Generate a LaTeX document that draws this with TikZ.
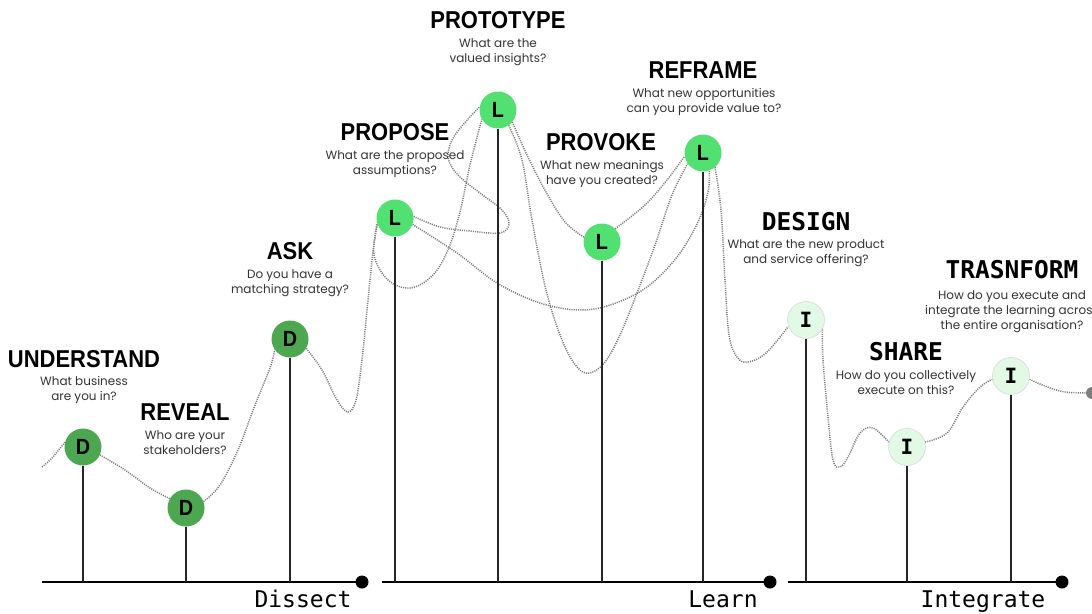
\documentclass[tikz,border=0pt]{standalone}
\usepackage{fontspec}
\setmainfont{Poppins}
\newfontfamily\headsans[FakeStretch=0.9]{Liberation Sans}
\newfontfamily\headmono{DejaVu Sans Mono}
\usetikzlibrary{backgrounds}
\definecolor{dgreen}{HTML}{4DA750}
\definecolor{lgreen}{HTML}{52E070}
\definecolor{pgreen}{HTML}{E1F9E5}
\definecolor{subgray}{HTML}{333333}
\definecolor{pathgray}{HTML}{7E7E7E}

\tikzset{
  stage/.style={circle, minimum size=37pt, inner sep=0pt,
    font=\headsans\bfseries\fontsize{22}{22}\selectfont},
  dstage/.style={stage, fill=dgreen},
  lstage/.style={stage, fill=lgreen},
  istage/.style={stage, fill=pgreen, draw=gray!30, line width=0.6pt,
    font=\headmono\bfseries\fontsize{21}{21}\selectfont},
  title/.style={font=\headsans\bfseries\fontsize{24.4}{25}\selectfont, inner sep=0pt},
  mtitle/.style={font=\headmono\bfseries\fontsize{24.5}{25}\selectfont, inner sep=0pt},
  question/.style={font=\fontsize{12}{15}\selectfont, text=subgray,
    align=center, inner sep=0pt, anchor=north},
  phase/.style={font=\headmono\fontsize{23}{23}\selectfont, inner sep=0pt, anchor=base},
  stem/.style={line width=1.5pt, draw=black!85},
  axisline/.style={line width=2pt, draw=black},
  enddot/.style={circle, fill=black, minimum size=13pt, inner sep=0pt},
  trail/.style={draw=pathgray, line width=1.5pt, dash pattern=on 1.1pt off 1.1pt},
  trailend/.style={circle, fill=pathgray, minimum size=12pt, inner sep=0pt},
}

\begin{document}
\begin{tikzpicture}[x=1pt, y=-1pt]
\useasboundingbox (0,0) rectangle (1092,613);

% axes with end dots
\coordinate (a1s) at (42,582);
\coordinate (a2s) at (382,582);
\coordinate (a3s) at (788,582);
\node[enddot] (e1) at (362,582) {};
\node[enddot] (e2) at (770,582) {};
\node[enddot] (e3) at (1062,582) {};
\draw[axisline] (a1s) -- (e1.center);
\draw[axisline] (a2s) -- (e2.center);
\draw[axisline] (a3s) -- (e3.center);

\node[phase] (ph1) at (303,607) {Dissect};
\node[phase] (ph2) at (723,607) {Learn};
\node[phase] (ph3) at (983,607) {Integrate};

% stage circles
\node[dstage] (D1) at (83,447) {D};
\node[dstage] (D2) at (186,508) {D};
\node[dstage] (D3) at (290,339) {D};
\node[lstage] (L1) at (395,218) {L};
\node[lstage] (L2) at (498,110) {L};
\node[lstage] (L3) at (602,242) {L};
\node[lstage] (L4) at (703,153) {L};
\node[istage] (I1) at (806,320) {I};
\node[istage] (I2) at (907,447) {I};
\node[istage] (I3) at (1011,376) {I};

% stems down to the axes
\foreach \s/\a in {D1/a1s, D2/a1s, D3/a1s, L1/a2s, L2/a2s, L3/a2s, L4/a2s, I1/a3s, I2/a3s, I3/a3s}
  \draw[stem] (\s.south) -- (\s.south |- \a);

% titles and questions
\node[title] (t1) at (84,359) {UNDERSTAND};
\node[question] (q1) at (84,376) {What business\\are you in?};
\node[title] (t2) at (185,412) {REVEAL};
\node[question] (q2) at (185,430) {Who are your\\stakeholders?};
\node[title] (t3) at (290,251) {ASK};
\node[question] (q3) at (290,269) {Do you have a\\matching strategy?};
\node[title] (t4) at (395,132) {PROPOSE};
\node[question] (q4) at (395,150) {What are the proposed\\assumptions?};
\node[title] (t5) at (498,20) {PROTOTYPE};
\node[question] (q5) at (498,38) {What are the\\valued insights?};
\node[title] (t6) at (703,70) {REFRAME};
\node[question] (q6) at (704,88) {What new opportunities\\can you provide value to?};
\node[title] (t7) at (601,142) {PROVOKE};
\node[question] (q7) at (602,160) {What new meanings\\have you created?};
\node[mtitle] (t8) at (806,222) {DESIGN};
\node[question] (q8) at (806,239) {What are the new product\\and service offering?};
\node[mtitle] (t9) at (906,352) {SHARE};
\node[question] (q9) at (906,370) {How do you collectively\\execute on this?};
\node[mtitle] (t10) at (1012,270) {TRASNFORM};
\node[question] (q10) at (1012,290) {How do you execute and\\integrate the learning across\\the entire organisation?};

% dotted journey line
\node[trailend] (tend) at (1092,393) {};
\coordinate (tstart) at (42,467);
\begin{scope}[on background layer]
  \draw[trail] plot[smooth, tension=0.6] coordinates {(tstart) (52,458) (D1.165)};
  \draw[trail] plot[smooth, tension=0.6] coordinates {(D1.-25) (125,470) (150,488) (D2.150)};
  \draw[trail] plot[smooth, tension=0.6] coordinates {(D2.20) (220,485) (238,450) (255,405) (270,368) (D3.215)};
  \draw[trail] plot[smooth, tension=0.6] coordinates {(D3.-30) (322,370) (337,400) (348,412) (356,400) (362,360) (368,300) (373,252) (L1.195)};
  \draw[trail] plot[smooth, tension=0.6] coordinates {(L1.200) (374,255) (388,280) (410,288) (432,276) (448,250) (460,212) (470,165) (L2.210)};
  \draw[trail] plot[smooth, tension=0.6] coordinates {(L1.5) (440,227) (470,231) (500,233) (509,224) (502,210) (480,193) (458,175) (448,157) (455,135) (L2.170)};
  \draw[trail] plot[smooth, tension=0.6] coordinates {(L1.-20) (457,253) (497,283) (540,303) (580,310) (613,304) (647,287) (677,257) (698,222) (708,192) (L4.-70)};
  \draw[trail] plot[smooth, tension=0.6] coordinates {(L2.-40) (527,155) (546,192) (565,222) (L3.165)};
  \draw[trail] plot[smooth, tension=0.6] coordinates {(L2.-55) (522,160) (532,220) (546,290) (562,340) (577,367) (590,373) (605,362) (620,335) (637,293) (655,245) (672,195) (L4.215)};
  \draw[trail] plot[smooth, tension=0.6] coordinates {(L3.45) (645,205) (667,180) (L4.190)};
  \draw[trail] plot[smooth, tension=0.6] coordinates {(L4.-50) (721,210) (725,280) (729,335) (737,357) (748,362) (766,353) (I1.200)};
  \draw[trail] plot[smooth, tension=0.6] coordinates {(I1.-30) (823,360) (828,417) (833,460) (840,467) (848,457) (860,433) (873,428) (I2.165)};
  \draw[trail] plot[smooth, tension=0.6] coordinates {(I2.15) (947,433) (963,407) (980,387) (I3.190)};
  \draw[trail] plot[smooth, tension=0.6] coordinates {(I3.-10) (1045,386) (1065,392) (tend.center)};
\end{scope}
\end{tikzpicture}
\end{document}
